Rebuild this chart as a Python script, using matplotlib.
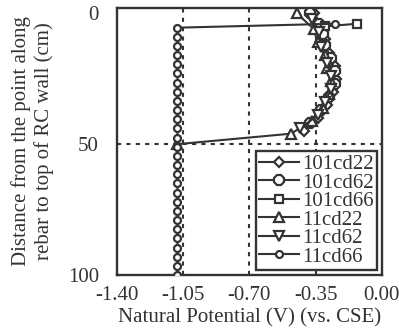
import numpy as np
import matplotlib
matplotlib.use("Agg")
from matplotlib import pyplot as plt

plt.rcParams['font.family'] = ['Liberation Serif', 'DejaVu Serif']

# depth (cm) and natural potential (V vs. CSE)
d_101cd22 = [0, 5, 10, 15, 20, 25, 30, 35, 40, 45]
v_101cd22 = [-0.36, -0.31, -0.30, -0.28, -0.25, -0.24, -0.26, -0.29, -0.34, -0.41]

d_101cd62 = [0, 4, 8, 12, 17, 22, 27, 32, 37, 42]
v_101cd62 = [-0.38, -0.33, -0.31, -0.30, -0.27, -0.25, -0.25, -0.28, -0.32, -0.38]

d_101cd66 = [4, 5]
v_101cd66 = [-0.13, -0.30]

d_11cd22 = [0, 6, 11, 16, 21, 26, 31, 36, 41, 46, 50]
v_11cd22 = [-0.45, -0.36, -0.34, -0.30, -0.29, -0.27, -0.28, -0.31, -0.37, -0.48, -1.08]

d_11cd62 = [2, 7, 13, 19, 24, 29, 34, 39, 44]
v_11cd62 = [-0.37, -0.33, -0.32, -0.29, -0.27, -0.27, -0.30, -0.34, -0.43]

d_11cd66 = [4, 5.5, 9, 12.5, 16, 19.5, 23, 26.5, 30, 33.5, 37, 40.5, 44, 47.5,
            51, 54.5, 58, 61.5, 65, 68.5, 72, 75.5, 79, 82.5, 86, 89.5, 93, 96.5, 100]
v_11cd66 = [-0.25] + [-1.08] * 28

series = [
    ("101cd22", d_101cd22, v_101cd22, "D", 5.5),
    ("101cd62", d_101cd62, v_101cd62, "8", 7.5),
    ("101cd66", d_101cd66, v_101cd66, "s", 5.5),
    ("11cd22", d_11cd22, v_11cd22, "^", 7),
    ("11cd62", d_11cd62, v_11cd62, "v", 7),
    ("11cd66", d_11cd66, v_11cd66, "o", 5),
]

xticks = [-1.40, -1.05, -0.70, -0.35, 0.00]
yticks = [0, 50, 100]

ink = "#333333"

fig = plt.figure(figsize=(3.99, 3.35), dpi=100)
ax = fig.add_axes([0.293, 0.179, 0.664, 0.797])

for x in xticks[1:-1]:
    ax.axvline(x, color=ink, lw=1.5, ls=(0, (2, 2.5)), zorder=1)
ax.axhline(50, color=ink, lw=1.5, ls=(0, (2, 2.5)), zorder=1)

for name, d, v, m, ms in series:
    ax.plot(v, d, color=ink, lw=1.5, marker=m, ms=ms, mfc="white",
            mec=ink, mew=1.6, label=name, zorder=3)

ax.set_xlim(-1.40, 0.0)
ax.set_ylim(100, -2)
ax.set_xticks(xticks)
ax.set_xticklabels(["%.2f" % x for x in xticks])
ax.set_yticks(yticks)
ax.tick_params(length=0, labelsize=15, colors=ink)
ax.tick_params(axis="x", pad=8)
ax.tick_params(axis="y", pad=13)
for s in ax.spines.values():
    s.set_linewidth(1.7)
    s.set_color(ink)

ax.set_xlabel("Natural Potential (V) (vs. CSE)", fontsize=15, color=ink, labelpad=2)
ax.set_ylabel("Distance from the point along\nrebar to top of RC wall (cm)",
              fontsize=15, color=ink, labelpad=10)

leg = ax.legend(loc="lower right", fontsize=15, handlelength=1.9,
                handletextpad=0.15, labelspacing=-0.05, borderpad=0.15,
                borderaxespad=0.25, fancybox=False, framealpha=1)
leg.get_frame().set_edgecolor(ink)
leg.get_frame().set_linewidth(1.7)
for t in leg.get_texts():
    t.set_color(ink)

fig.savefig("out.png", dpi=100)
